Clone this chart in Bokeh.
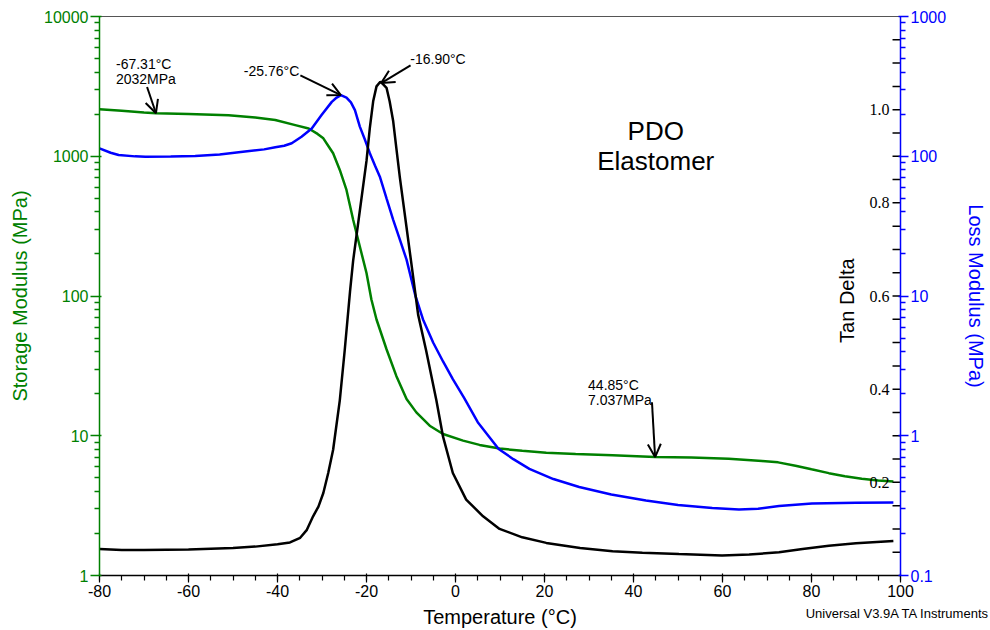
import numpy as np
from bokeh.plotting import figure
from bokeh.layouts import column
from bokeh.models import (Range1d, LogScale, LinearScale, LogAxis, FixedTicker,
                          Label, LabelSet, Arrow, OpenHead, ColumnDataSource, Div)
from bokeh.embed import file_html
from bokeh.resources import INLINE

# ---------------- data ----------------
temp_storage = [-80, -75, -70, -67.31, -60, -51, -45, -40.5, -36, -33, -31, -29.7, -28.5,
                -27.5, -26, -24.5, -23, -21.5, -20, -18.9, -17.75, -15.5, -13.3, -11, -8.8,
                -5.8, -2.8, 1.7, 5.4, 9.9, 15, 20.4, 27, 35.3, 44.85, 53, 61.4, 68.9, 72.5,
                76.4, 80, 83.9, 87.5, 91.3, 95, 98.4]
storage_mpa = [2170, 2118, 2060, 2032, 2005, 1968, 1897, 1815, 1671, 1581, 1445, 1343, 1175,
               1050, 798, 574, 351, 226, 146, 94.4, 67.9, 41.6, 26.8, 18.3, 14.7,
               11.8, 10.3, 9.23, 8.6, 8.1, 7.8, 7.55, 7.4, 7.25, 7.04, 6.98, 6.85, 6.6, 6.45,
               6.1, 5.75, 5.4, 5.13, 4.92, 4.79, 4.7]

temp_loss = [-80, -77.5, -75.7, -72, -69.7, -64, -58.5, -53, -47.3, -43, -40.5, -38.5, -36.8,
             -34.6, -32.3, -30.1, -27.8, -26.7, -25.76, -24.5, -23.5, -22.6, -21.5, -20.3,
             -19.25, -18.1, -17, -15.5, -14, -12.5, -11, -9, -7.3, -5, -2.8, -0.6, 2, 5,
             9.7, 13, 16.6, 22, 27.8, 35, 42.8, 50, 57.7, 63.7, 68, 72.7, 80.1, 90, 98.4]
loss_mpa = [114, 106, 102, 99.8, 99.3, 99.5, 100.5, 103, 108, 112, 116, 119, 124,
            138, 158, 197, 245, 263, 274, 263, 243, 214, 163, 130,
            105, 86, 71.4, 50, 35.1, 25.3, 18.2, 10, 6.8, 4.63, 3.4, 2.54, 1.85, 1.25,
            0.805, 0.68, 0.58, 0.49, 0.43, 0.38, 0.344, 0.32, 0.304, 0.297, 0.300, 0.314,
            0.328, 0.332, 0.333]

temp_tan = [-80, -75, -70, -60, -50, -45, -40, -37.2, -34.9, -33.4, -32, -30.8, -29.7, -28.6,
            -27.5, -26, -24.9, -23.7, -23, -21.5, -20, -19.25, -18.5, -17.75, -16.9, -16.3,
            -15.5, -14.8, -14, -13.3, -12.5, -11, -9.5, -8.4, -6.6, -4.3, -2.8, -0.6, 2.4,
            6.2, 9.9, 15, 20.4, 28, 35.3, 42, 50.2, 59.9, 66, 72.7, 78, 83.9, 90, 98.4]
tan_delta = [0.057, 0.055, 0.055, 0.056, 0.059, 0.062, 0.067, 0.071, 0.081, 0.098, 0.127,
             0.148, 0.177, 0.22, 0.270, 0.376, 0.483, 0.61, 0.676, 0.783, 0.890, 0.961, 1.018,
             1.050, 1.06, 1.055, 1.047, 1.018, 0.975, 0.918, 0.854, 0.747, 0.640, 0.56, 0.483,
             0.376, 0.298, 0.220, 0.163, 0.127, 0.100, 0.082, 0.070, 0.059, 0.052, 0.049,
             0.046, 0.043, 0.045, 0.050, 0.057, 0.064, 0.069, 0.074]

x_ticks = [-80, -60, -40, -20, 0, 20, 40, 60, 80, 100]
x_tick_labels = ["-80", "-60", "-40", "-20", "0", "20", "40", "60", "80", "100"]
x_minor_ticks = list(range(-80, 101, 5))
storage_ticks = [1, 10, 100, 1000, 10000]
storage_tick_labels = ["1", "10", "100", "1000", "10000"]
loss_ticks = [0.1, 1, 10, 100, 1000]
loss_tick_labels = ["0.1", "1", "10", "100", "1000"]
tan_ticks = [0.2, 0.4, 0.6, 0.8, 1.0]
tan_tick_labels = ["0.2", "0.4", "0.6", "0.8", "1.0"]
tan_minor_ticks = [round(0.05 * i, 2) for i in range(1, 24)]

# annotations: (temperature, value)
ann_storage_low = (-67.31, 2032.0)
ann_loss_peak = (-25.76, 274.0)
ann_tan_peak = (-16.90, 1.06)
ann_storage_high = (44.85, 7.037)

GREEN = "#008000"
BLUE = "#0000ff"
FONT = "Liberation Sans"


def log_minor(decades):
    out = []
    for d in decades:
        for m in range(2, 10):
            out.append(m * d)
    return out


p = figure(width=990, height=630, x_range=Range1d(-80, 100), y_range=Range1d(1, 10000),
           y_axis_type="log", output_backend="svg", toolbar_location=None,
           min_border_left=99, min_border_right=88, min_border_top=16, min_border_bottom=53)
p.extra_y_ranges = {"loss": Range1d(0.1, 1000), "tan": Range1d(0, 1.2)}
p.extra_y_scales = {"loss": LogScale(), "tan": LinearScale()}
p.grid.visible = False
p.outline_line_color = "#555555"
p.outline_line_width = 1

# x axis
xa = p.xaxis[0]
xa.ticker = FixedTicker(ticks=x_ticks, minor_ticks=x_minor_ticks)
xa.major_label_overrides = {t: l for t, l in zip(x_ticks, x_tick_labels)}
xa.axis_label = "Temperature (°C)"
xa.axis_line_color = "black"
xa.axis_line_width = 1.5
xa.major_tick_out = 7
xa.minor_tick_out = 5
xa.major_tick_line_color = "black"
xa.minor_tick_line_color = "black"
xa.major_tick_line_width = 1.2
xa.minor_tick_line_width = 1.2
xa.major_label_standoff = 2
xa.axis_label_standoff = 6

# left axis (storage)
ya = p.yaxis[0]
ya.ticker = FixedTicker(ticks=storage_ticks, minor_ticks=log_minor([1, 10, 100, 1000]))
ya.major_label_overrides = {t: l for t, l in zip(storage_ticks, storage_tick_labels)}
ya.axis_label = "Storage Modulus (MPa)"
ya.major_tick_out = 9
ya.minor_tick_out = 5
ya.major_label_standoff = 2
ya.axis_label_standoff = 10
ya.axis_line_color = GREEN
ya.axis_line_width = 1.5
ya.major_tick_line_color = GREEN
ya.minor_tick_line_color = GREEN
ya.major_tick_line_width = 1.5
ya.minor_tick_line_width = 1.5
ya.major_label_text_color = GREEN
ya.axis_label_text_color = GREEN

# right axis (loss)
ra = LogAxis(y_range_name="loss",
             ticker=FixedTicker(ticks=loss_ticks, minor_ticks=log_minor([0.1, 1, 10, 100])))
ra.major_label_overrides = {t: l for t, l in zip(loss_ticks, loss_tick_labels)}
ra.axis_label = "Loss Modulus (MPa)"
ra.major_tick_out = 8
ra.minor_tick_out = 5
ra.major_label_standoff = 2
ra.axis_label_standoff = 16
ra.axis_line_color = BLUE
ra.axis_line_width = 1.5
ra.major_tick_line_color = BLUE
ra.minor_tick_line_color = BLUE
ra.major_tick_line_width = 1.5
ra.minor_tick_line_width = 1.5
ra.major_label_text_color = BLUE
ra.axis_label_text_color = BLUE
p.add_layout(ra, "right")

for ax in (xa, ya, ra):
    ax.major_label_text_font = FONT
    ax.major_label_text_font_size = "16px"
    ax.axis_label_text_font = FONT
    ax.axis_label_text_font_size = "20px"
    ax.axis_label_text_font_style = "normal"
xa.major_label_text_color = "black"
xa.axis_label_text_color = "black"

# curves
p.line(temp_storage, storage_mpa, line_color=GREEN, line_width=2.5)
p.line(temp_loss, loss_mpa, line_color=BLUE, line_width=2.5, y_range_name="loss")
p.line(temp_tan, tan_delta, line_color="black", line_width=2.5, y_range_name="tan")

# tan delta inner scale (ticks + labels at the right edge)
tick_len = 8 * 180 / 803.0  # 8 px expressed in degrees
p.segment(x0=[100] * len(tan_minor_ticks), y0=tan_minor_ticks,
          x1=[100 - tick_len] * len(tan_minor_ticks), y1=tan_minor_ticks,
          y_range_name="tan", line_color="black", line_width=1.5)
tan_src = ColumnDataSource(dict(x=[100] * len(tan_ticks), y=tan_ticks, text=tan_tick_labels))
p.add_layout(LabelSet(x="x", y="y", text="text", source=tan_src, y_range_name="tan",
                      x_offset=-11, text_align="right", text_baseline="middle",
                      text_font=FONT, text_font_size="16px", text_color="black"))
p.add_layout(Label(x=100, y=0.59, y_range_name="tan", text="Tan Delta", angle=np.pi / 2,
                   x_offset=-54, text_align="center", text_baseline="middle",
                   text_font=FONT, text_font_size="20px", text_color="black"))

# annotations
def ann_text(x, y, txt, x_off, y_off, rng="default", align="left"):
    kw = {} if rng == "default" else {"y_range_name": rng}
    p.add_layout(Label(x=x, y=y, text=txt, x_offset=x_off, y_offset=y_off, text_align=align,
                       text_baseline="alphabetic", text_font=FONT, text_font_size="14px",
                       text_color="black", **kw))


def ann_arrow(x0, y0, x1, y1, rng="default"):
    kw = {} if rng == "default" else {"y_range_name": rng}
    p.add_layout(Arrow(end=OpenHead(size=13, line_width=2, line_color="black"),
                       x_start=x0, y_start=y0, x_end=x1, y_end=y1,
                       line_width=2, line_color="black", **kw))


# -67.31 °C, 2032 MPa
tx, tv = ann_storage_low
ann_text(tx, tv, "-67.31°C", -40, 49)
ann_text(tx, tv, "2032MPa", -40, 34)
ann_arrow(tx - 2.0, tv * 1.54, tx, tv)

# -25.76 °C loss peak
tx, tv = ann_loss_peak
ann_text(tx, tv, "-25.76°C", -97, 24, rng="loss")
ann_arrow(tx - 9.1, tv * 1.385, tx, tv, rng="loss")

# -16.90 °C tan delta peak
tx, tv = ann_tan_peak
ann_text(tx, tv, "-16.90°C", 30, 23, rng="tan")
ann_arrow(tx + 6.8, tv + 0.035, tx + 0.2, tv - 0.003, rng="tan")

# 44.85 °C, 7.037 MPa
tx, tv = ann_storage_high
ann_text(tx, tv, "44.85°C", -67, 72)
ann_text(tx, tv, "7.037MPa", -67, 57)
ann_arrow(tx - 0.7, tv * 2.47, tx, tv)

# sample name
p.add_layout(Label(x=45.0, y=1306, y_offset=9, text="PDO", text_align="center",
                   text_baseline="alphabetic", text_font=FONT, text_font_size="26px",
                   text_color="black"))
p.add_layout(Label(x=45.0, y=798, y_offset=9, text="Elastomer", text_align="center",
                   text_baseline="alphabetic", text_font=FONT, text_font_size="26px",
                   text_color="black"))

# instrument footer, overlapping the bottom-right corner of the figure
footer = Div(text="Universal V3.9A TA Instruments", width=190, height=16,
             margin=(-24, 0, 0, 798),
             styles={"font-family": "Liberation Sans", "font-size": "13px", "color": "black",
                     "text-align": "right", "position": "relative", "z-index": "10",
                     "white-space": "nowrap", "line-height": "16px"})

layout = column(p, footer, spacing=0)
open("out.html", "w").write(file_html(layout, INLINE))
